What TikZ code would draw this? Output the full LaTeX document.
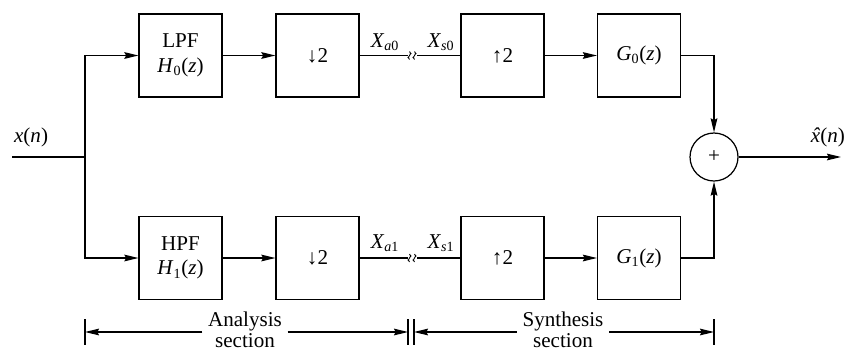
\documentclass[tikz,border=0pt]{standalone}
\usepackage{fontspec}
\setmainfont{Liberation Serif}
\usetikzlibrary{arrows.meta,positioning,calc}

\begin{document}
\begin{tikzpicture}[
  x=0.02cm, y=-0.02cm,
  blk/.style={draw, line width=0.7pt, minimum width=1.66cm, minimum height=1.66cm, inner sep=0pt, align=center, font=\fontsize{12}{14}\selectfont},
  sumnode/.style={draw, circle, line width=0.7pt, minimum size=0.96cm, inner sep=0pt, font=\fontsize{12}{14}\selectfont},
  arr/.style={-{Stealth[length=8pt,width=3.8pt,inset=1pt]}, line width=0.7pt},
  wire/.style={line width=0.7pt},
  lbl/.style={font=\fontsize{12}{14}\selectfont, inner sep=1pt},
  dimtxt/.style={font=\fontsize{12}{12}\selectfont, align=center, inner sep=3pt},
]
\useasboundingbox (0,0) rectangle (847,352);

% -- analysis bank --
\node[blk] (lpf) at (180.5,55.5) {LPF\\\textit{H}\textsubscript{0}(\textit{z})};
\node[blk] (dn0) at (317.5,55.5) {↓2};
\node[blk] (hpf) at (180.5,258) {HPF\\\textit{H}\textsubscript{1}(\textit{z})};
\node[blk] (dn1) at (317.5,258) {↓2};

% -- synthesis bank --
\node[blk] (up0) at (502.5,55.5) {↑2};
\node[blk] (g0) at (639,55.5) {\textit{G}\textsubscript{0}(\textit{z})};
\node[blk] (up1) at (502.5,258) {↑2};
\node[blk] (g1) at (639,258) {\textit{G}\textsubscript{1}(\textit{z})};

\node[sumnode] (sum) at (714,157) {+};

% input and split
\coordinate (xin) at (12,157);
\coordinate (br) at (85,157);
\node[lbl, anchor=south west] (xlbl) at (12,149) {\textit{x}(\textit{n})};
\draw[wire] (xin) -- (br);
\draw[arr] (br) |- (lpf.west);
\draw[arr] (br) |- (hpf.west);

\draw[arr] (lpf) -- (dn0);
\draw[arr] (hpf) -- (dn1);
\draw[arr] (up0) -- (g0);
\draw[arr] (up1) -- (g1);

% channel breaks
\coordinate (ba0) at (408,55.5);
\coordinate (bs0) at (417,55.5);
\coordinate (ba1) at (408,258);
\coordinate (bs1) at (417,258);
\draw[wire] (dn0.east) -- (ba0);
\draw[wire] (bs0) -- (up0.west);
\draw[wire] (dn1.east) -- (ba1);
\draw[wire] (bs1) -- (up1.west);
\foreach \b in {ba0,ba1}{
  \foreach \dx in {1.5,6.5}{
    \draw[line width=0.5pt] ($(\b)+(\dx,-4)$) sin ++(1.5,2) cos ++(-1.5,2) sin ++(-1.5,2) cos ++(1.5,2);
  }
}
\node[lbl] (xa0) at (385,42) {\textit{X}\textsubscript{\textit{a}0}};
\node[lbl] (xs0) at (441,42) {\textit{X}\textsubscript{\textit{s}0}};
\node[lbl] (xa1) at (385,243) {\textit{X}\textsubscript{\textit{a}1}};
\node[lbl] (xs1) at (441,243) {\textit{X}\textsubscript{\textit{s}1}};

% summing junction
\draw[arr] (g0.east) -| (sum.north);
\draw[arr] (g1.east) -| (sum.south);
\coordinate (xout) at (841,157);
\draw[arr] (sum) -- (xout);
\node[lbl, anchor=south east] (ylbl) at (847,149) {\rlap{\hspace{0.07em}\textit{ˆ}}\textit{x}(\textit{n})};

% section markers
\coordinate (tl) at (85,332);
\coordinate (tm1) at (408,332);
\coordinate (tm2) at (414,332);
\coordinate (tr) at (714,332);
\foreach \t in {tl,tm1,tm2,tr}
  \draw[wire] ($(\t)+(0,-13)$) -- ($(\t)+(0,13)$);
\node[dimtxt] (ana) at (245,330) {Analysis\\section};
\node[dimtxt] (syn) at (563,330) {Synthesis\\section};
\draw[arr] (ana.west |- tl) -- (tl);
\draw[arr] (ana.east |- tm1) -- (tm1);
\draw[arr] (syn.west |- tm2) -- (tm2);
\draw[arr] (syn.east |- tr) -- (tr);

\end{tikzpicture}
\end{document}
